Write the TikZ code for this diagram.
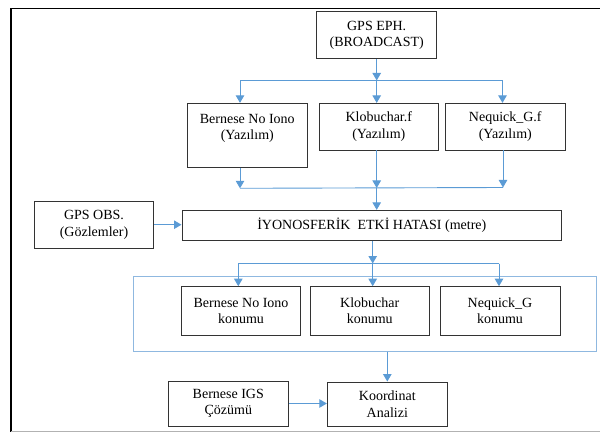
\documentclass[tikz,border=0pt]{standalone}
\usepackage{fontspec}
\setmainfont{Liberation Serif}
\usetikzlibrary{arrows.meta}
\definecolor{lblue}{HTML}{5B9BD5}
\definecolor{cblue}{HTML}{8FB8E0}
\definecolor{boxline}{HTML}{333333}
\tikzset{
  box/.style={draw=boxline, line width=0.9pt, fill=white, inner sep=0pt, align=center,
    font=\fontsize{14}{16.6}\selectfont},
  ln/.style={draw=lblue, line width=0.9pt},
  arr/.style={draw=lblue, line width=0.9pt, -{Triangle[width=8.5pt,length=7.5pt]}, fill=lblue},
  container/.style={draw=cblue, line width=1pt, inner sep=0pt}
}
\begin{document}
\begin{tikzpicture}[x=1pt,y=-1pt]
\useasboundingbox (0,0) rectangle (600,433);
% frame
\draw[black, line width=1.6pt] (605,8.5) -- (11,8.5) -- (11,432);
\draw[gray!60, line width=0.8pt] (11,431.7) -- (600,431.7);

% top boxes
\node[box, minimum width=120, minimum height=47.3] (eph) at (376.7,35.3) {GPS EPH.\\(BROADCAST)};
\node[box, minimum width=120, minimum height=64] (bern) at (247.3,135.3) {Bernese No Iono\\(Yazılım)\rule[-17pt]{0pt}{17pt}};
\node[box, minimum width=119, minimum height=46.7] (klob) at (378.8,126.7) {Klobuchar.f\\(Yazılım)};
\node[box, minimum width=119.3, minimum height=46.7] (neq) at (505.3,126.7) {Nequick\_G.f\\(Yazılım)};

% middle
\node[box, minimum width=119.4, minimum height=47.3] (obs) at (94,224.7) {GPS OBS.\\(Gözlemler)};
\node[box, minimum width=379.7, minimum height=30] (iyono) at (371.8,225.3) {İYONOSFERİK\ \ ETKİ HATASI (metre)};

% container
\node[container, minimum width=462.7, minimum height=75] (cont) at (364.65,313.5) {};
\node[box, minimum width=119.4, minimum height=48.3] (bk) at (241,310.8) {Bernese No Iono\\konumu};
\node[box, minimum width=119.3, minimum height=48.3] (kk) at (369.7,310.8) {Klobuchar\\konumu};
\node[box, minimum width=120, minimum height=48.3] (nk) at (500,310.8) {Nequick\_G\\konumu};

% bottom
\node[box, minimum width=120, minimum height=45] (igs) at (228.3,403.5) {Bernese IGS\\Çözümü};
\node[box, minimum width=120, minimum height=44] (koord) at (387.3,404) {Koordinat\\Analizi};

% junction coordinates
\coordinate (t1) at (376.7,80.5);
\coordinate (bl) at (240,80.5);
\coordinate (br) at (502.5,80.5);
\coordinate (ml) at (240,188.3);
\coordinate (mc) at (376.7,188);
\coordinate (mr) at (503,187.5);
\coordinate (c1) at (372.7,263.5);
\coordinate (cl) at (238.3,263.5);
\coordinate (cr) at (499,263.5);

% connectors top
\draw[arr] (eph.south) -- (t1);
\draw[ln] (bl) -- (br);
\draw[arr] (bl) -- (bern.north -| bl);
\draw[arr] (t1) -- (klob.north -| t1);
\draw[arr] (br) -- (neq.north -| br);

% merge
\draw[arr] (bern.south -| ml) -- (ml);
\draw[arr] (klob.south -| mc) -- (mc);
\draw[arr] (neq.south -| mr) -- (mr);
\draw[ln] (ml) -- (mr);
\draw[arr] (mc) -- (iyono.north -| mc);

% obs
\draw[arr] (obs.east) -- (obs.east -| iyono.west);

% lower branch
\draw[arr] (iyono.south -| c1) -- (c1);
\draw[ln] (cl) -- (cr);
\draw[arr] (cl) -- (bk.north -| cl);
\draw[arr] (c1) -- (kk.north -| c1);
\draw[arr] (cr) -- (nk.north -| cr);

% to koordinat
\draw[arr] (cont.south -| koord.north) -- (koord.north);
\draw[arr] (igs.east) -- (igs.east -| koord.west);
\end{tikzpicture}
\end{document}
